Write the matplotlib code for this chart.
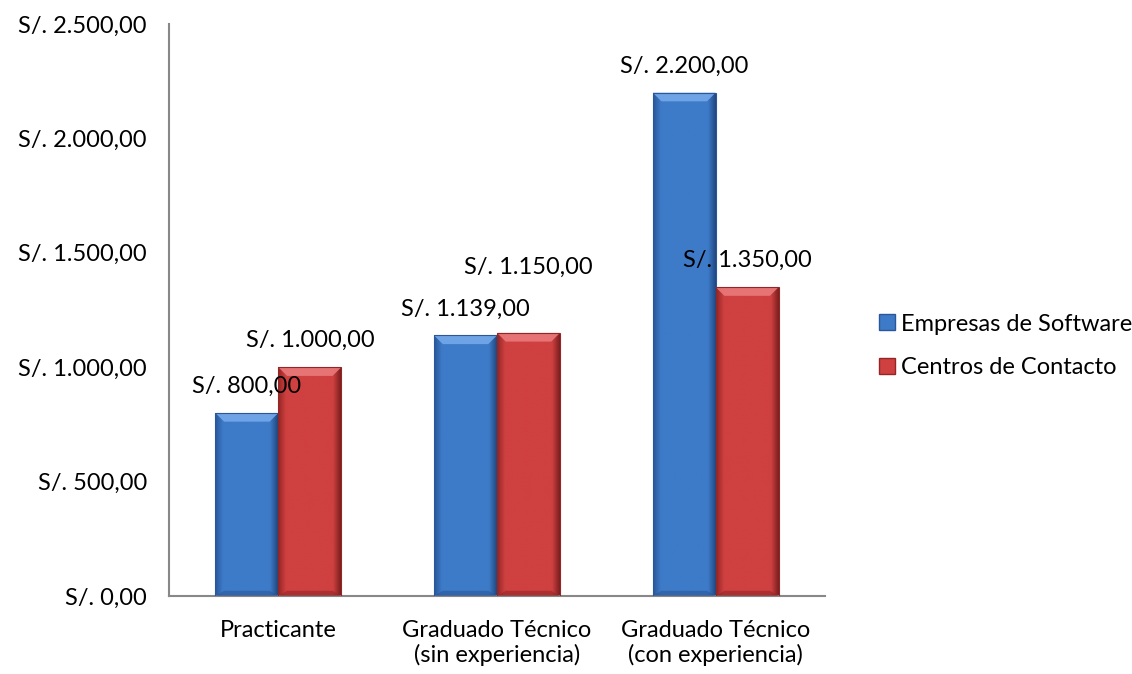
import matplotlib
matplotlib.use("Agg")
import matplotlib.pyplot as plt
import numpy as np
from matplotlib.patches import Polygon, Rectangle
from matplotlib.ticker import FuncFormatter
from matplotlib.colors import to_rgb

plt.rcParams['font.family'] = ['Lato', 'DejaVu Sans']

categories = ["Practicante", "Graduado Técnico\n(sin experiencia)", "Graduado Técnico\n(con experiencia)"]
series_names = ["Empresas de Software", "Centros de Contacto"]
software = [800, 1139, 2200]
contacto = [1000, 1150, 1350]
yticks = [0, 500, 1000, 1500, 2000, 2500]

base_colors = ["#3D7BC8", "#CF4040"]
dark_colors = ["#29579A", "#952626"]
light_colors = ["#74A8EA", "#EA7A7A"]

# extra vertical label offset (points) per series / category
label_extra = [[0, 0, 0], [0, 28, 0]]

def fmt(v, pos=None):
    s = f"{v:,.2f}"
    s = s.replace(",", "X").replace(".", ",").replace("X", ".")
    return "S/. " + s

fig = plt.figure(figsize=(11.32, 6.74), dpi=100)
ax = fig.add_axes([0.1493, 0.1157, 0.5795, 0.8487])

x = np.arange(len(categories))
w = 0.288
series = [software, contacto]
offsets = [-w / 2, w / 2]

ax.set_xlim(-0.5, len(categories) - 0.5)
ax.set_ylim(0, 2500)

def shade_bar(patch, i):
    x0 = patch.get_x(); wd = patch.get_width(); h = patch.get_height()
    base = np.array(to_rgb(base_colors[i])); dark = np.array(to_rgb(dark_colors[i]))
    light = np.array(to_rgb(light_colors[i]))
    t = np.linspace(0, 1, 60)
    grad = np.zeros((1, 60, 3))
    for k in range(60):
        if t[k] < 0.12:
            f = t[k] / 0.12
            grad[0, k] = dark + (base - dark) * f
        elif t[k] > 0.88:
            f = (t[k] - 0.88) / 0.12
            grad[0, k] = base + (dark * 0.85 - base) * f
        else:
            grad[0, k] = base
    im = ax.imshow(grad, extent=(x0, x0 + wd, 0, h), aspect='auto', zorder=2,
                   interpolation='bilinear')
    im.set_clip_path(patch)
    bx = 0.04; by = 38
    top = Polygon([(x0, h), (x0 + wd, h), (x0 + wd - bx, h - by), (x0 + bx, h - by)],
                  closed=True, facecolor=light, edgecolor='none', zorder=3, alpha=0.9)
    ax.add_patch(top)
    bot = Polygon([(x0, 0), (x0 + wd, 0), (x0 + wd - bx, by * 0.6), (x0 + bx, by * 0.6)],
                  closed=True, facecolor=dark, edgecolor='none', zorder=3, alpha=0.6)
    ax.add_patch(bot)

for i, vals in enumerate(series):
    bars = ax.bar(x + offsets[i], vals, width=w, color=base_colors[i],
                  edgecolor=dark_colors[i], linewidth=0.8, zorder=1, label=series_names[i])
    for j, (p, v) in enumerate(zip(bars, vals)):
        shade_bar(p, i)
        p.set_zorder(4); p.set_facecolor('none')
        ax.annotate(fmt(v), (p.get_x() + p.get_width() / 2, v),
                    xytext=(0, 19 + label_extra[i][j]),
                    textcoords='offset points', ha='center', va='center',
                    fontsize=17, color='black', zorder=6)

ax.set_xlim(-0.5, len(categories) - 0.5)
ax.set_ylim(0, 2500)
ax.set_yticks(yticks)
ax.yaxis.set_major_formatter(FuncFormatter(fmt))
ax.set_xticks(x)
ax.set_xticklabels(categories)
ax.tick_params(axis='y', length=0, pad=16, labelsize=17)
ax.tick_params(axis='x', length=0, pad=17, labelsize=17)
for s in ['top', 'right']:
    ax.spines[s].set_visible(False)
for s in ['left', 'bottom']:
    ax.spines[s].set_color('#888888')
    ax.spines[s].set_linewidth(1.5)

handles = [Rectangle((0, 0), 1, 1, facecolor=base_colors[i], edgecolor=dark_colors[i])
           for i in range(2)]
fig.legend(handles, series_names, loc='center left', bbox_to_anchor=(0.758, 0.487),
           frameon=False, fontsize=17, handlelength=0.65, handleheight=0.65,
           handletextpad=0.25, labelspacing=0.95)

fig.savefig("out.png", dpi=100)
